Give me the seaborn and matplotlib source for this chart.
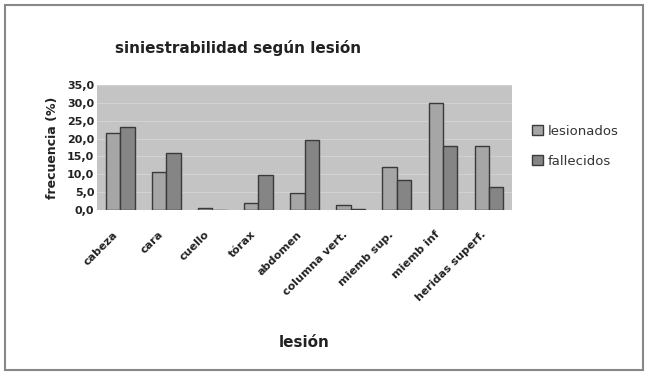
import matplotlib
matplotlib.use("Agg")
import matplotlib.pyplot as plt
import matplotlib.transforms as mtransforms
import seaborn as sns
import pandas as pd
from matplotlib.patches import Rectangle
from matplotlib.ticker import FuncFormatter

categories = ["cabeza", "cara", "cuello", "tórax", "abdomen", "columna vert.",
              "miemb sup.", "miemb inf", "heridas superf."]
lesionados = [21.6, 10.7, 0.5, 1.9, 4.9, 1.3, 12.1, 29.9, 17.9]
fallecidos = [23.3, 15.9, 0.1, 9.8, 19.6, 0.2, 8.4, 17.9, 6.4]
series = ["lesionados", "fallecidos"]

df = pd.DataFrame({
    "lesión": categories * 2,
    "valor": lesionados + fallecidos,
    "serie": [series[0]] * len(categories) + [series[1]] * len(categories),
})

sns.set_theme(style="white")
plt.rcParams["font.family"] = ["DejaVu Sans"]

fig = plt.figure(figsize=(6.48, 3.75), dpi=100)
ax = fig.add_axes([0.150, 0.44, 0.640, 0.333])

sns.barplot(data=df, x="lesión", y="valor", hue="serie", order=categories,
            hue_order=series, palette=["#a6a6a6", "#858585"],
            width=0.62, gap=0, edgecolor="#3a3a3a", linewidth=1.0,
            saturation=1, ax=ax, legend=True)

ax.set_facecolor("#c4c4c4")
ax.set_ylim(0, 35)
ax.set_xlim(-0.5, len(categories) - 0.5)
ax.set_yticks([0, 5, 10, 15, 20, 25, 30, 35])
ax.yaxis.set_major_formatter(FuncFormatter(lambda v, p: f"{v:.1f}".replace(".", ",")))
ax.grid(axis="y", color="#d2d2d2", linewidth=0.8)
ax.set_axisbelow(True)
for s in ax.spines.values():
    s.set_visible(False)
ax.tick_params(axis="both", length=0, pad=2)
for lab in ax.get_yticklabels():
    lab.set_fontsize(8)
    lab.set_fontweight("bold")
    lab.set_color("#222222")
ax.set_xticks(range(len(categories)))
ax.set_xticklabels(categories, rotation=45, ha="right", rotation_mode="anchor",
                   fontsize=8, fontweight="bold", color="#222222")
ax.tick_params(axis="x", pad=14)
offset = mtransforms.ScaledTranslation(-0.08, 0, fig.dpi_scale_trans)
for lab in ax.get_xticklabels():
    lab.set_transform(lab.get_transform() + offset)

ax.set_xlabel("lesión", fontsize=11, fontweight="bold", color="#222222")
ax.xaxis.set_label_coords(0.50, -1.0)
ax.set_ylabel("frecuencia (%)", fontsize=9, fontweight="bold", color="#222222", labelpad=6)

fig.text(0.367, 0.872, "siniestrabilidad según lesión", ha="center", va="center",
         fontsize=11, fontweight="bold", color="#222222")

leg = ax.legend(loc="center left", bbox_to_anchor=(1.02, 0.51), frameon=False,
                fontsize=9.5, handlelength=0.8, handleheight=0.8, handletextpad=0.4,
                labelspacing=1.3)
for t in leg.get_texts():
    t.set_color("#333333")

fig.patches.append(Rectangle((0.008, 0.013), 0.984, 0.974, transform=fig.transFigure,
                             fill=False, edgecolor="#888888", linewidth=1.5))

fig.savefig("out.png", dpi=100)
